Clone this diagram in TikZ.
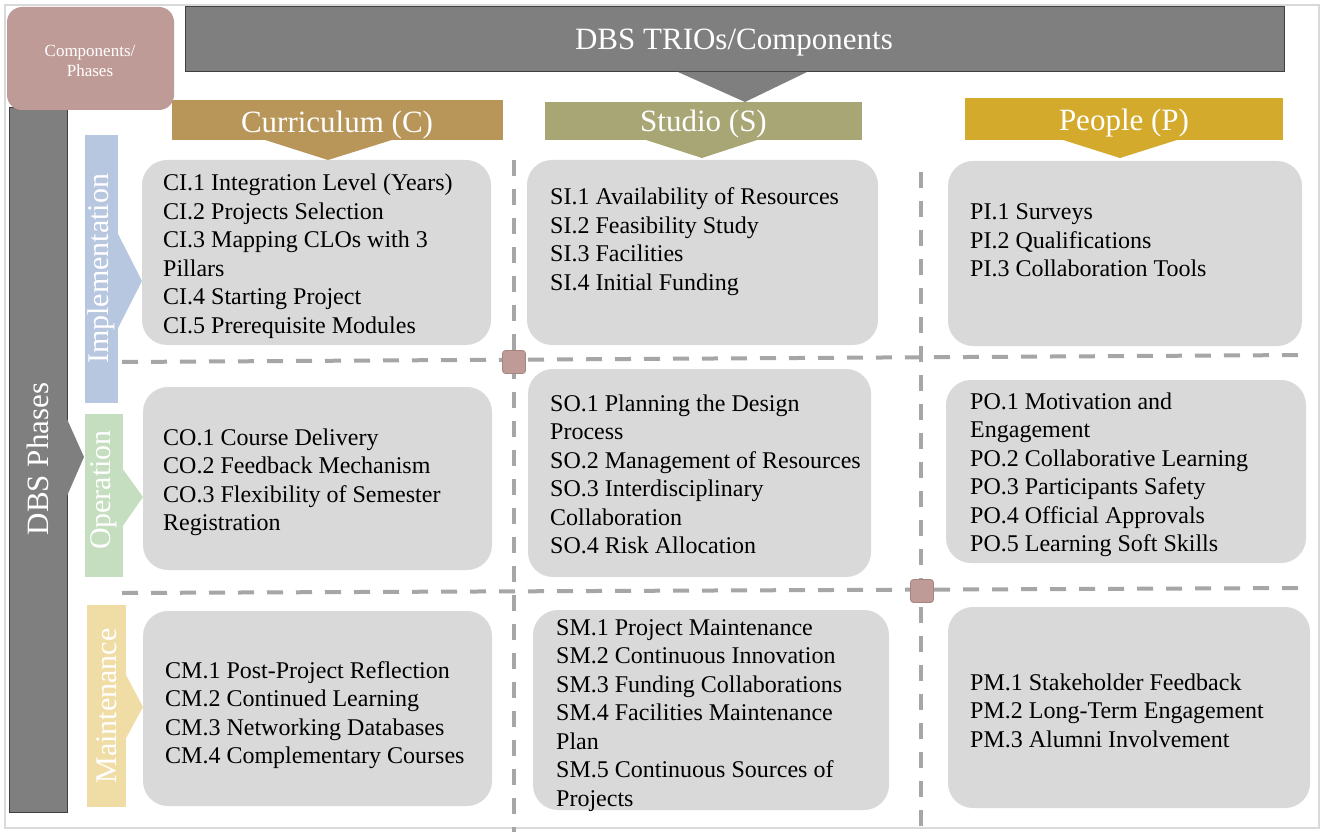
\documentclass[tikz,border=0pt]{standalone}
\usepackage{fontspec}
\setmainfont{Liberation Serif}
\usetikzlibrary{fit}
\definecolor{cframe}{HTML}{D9D9D9}
\definecolor{cgray}{HTML}{7F7F7F}
\definecolor{cgrayd}{HTML}{404040}
\definecolor{crose}{HTML}{BF9B97}
\definecolor{crosed}{HTML}{A88480}
\definecolor{ccur}{HTML}{B89558}
\definecolor{cstu}{HTML}{A9A676}
\definecolor{cpeo}{HTML}{D4AA2C}
\definecolor{cimp}{HTML}{B7C7DF}
\definecolor{cope}{HTML}{C5DEBF}
\definecolor{cmai}{HTML}{F0DDA6}
\definecolor{cbox}{HTML}{D9D9D9}
\definecolor{cdash}{HTML}{A6A6A6}
\begin{document}
\begin{tikzpicture}[x=1pt,y=-1pt,
  cbx/.style={fill=cbox, draw=none, rounded corners=25pt, inner sep=0pt},
  hdr/.style={draw=none, inner sep=0pt},
  hdrtxt/.style={anchor=base, inner sep=0pt, text=white, font=\fontsize{31}{34}\selectfont},
  phs/.style={draw=none, inner sep=0pt},
  phtxt/.style={rotate=90, text=white, inner sep=0pt, font=\fontsize{30}{34}\selectfont},
  txt/.style={anchor=base west, inner sep=0pt, text=black, font=\fontsize{24}{28.5}\selectfont},
  dsh/.style={draw=cdash, line width=4pt, dash pattern=on 16pt off 13pt},
  sq/.style={fill=crose, draw=crosed, line width=0.8pt, rounded corners=3pt, minimum size=23pt, inner sep=0pt},
]
\useasboundingbox (0,0) rectangle (1325,834);
\fill[white] (0,0) rectangle (1325,834);
\draw[cframe, line width=1.5pt] (5,5) rectangle (1319,828);

% top banner
\node[fill=cgray, draw=cgrayd, line width=1pt, inner sep=0pt, fit={(185,7)(1284,72)}] (banner) {};
\node[hdrtxt] (bannerT) at (734,50) {DBS TRIOs/Components};
\fill[cgray] (678,72) -- (807,72) -- (745,102) -- cycle;

% left phases bar
\node[fill=cgray, draw=cgrayd, line width=1pt, inner sep=0pt, fit={(9,108)(67,812)}] (phbar) {};
\node[rotate=90, text=white, inner sep=0pt, font=\fontsize{31}{34}\selectfont] (phbarT) at (38,459) {DBS Phases};
\fill[cgray] (66.5,418) -- (84,457) -- (66.5,497) -- cycle;

% dashed grid lines
\draw[dsh] (514,160) -- (514,832);
\draw[dsh] (921,172) -- (921,832);
\draw[dsh] (122,362) -- (1305,355);
\draw[dsh] (122,593) -- (1305,588);

% component headers
\fill[ccur] (262,139) -- (395,139) -- (328,160) -- cycle;
\fill[cstu] (643,139) -- (760,139) -- (702,158) -- cycle;
\fill[cpeo] (1060,139) -- (1180,139) -- (1120,158) -- cycle;
\node[hdr, fill=ccur, fit={(172,100)(503,140)}] (hcur) {};
\node[hdrtxt] (hcurT) at (337,132.5) {Curriculum (C)};
\node[hdr, fill=cstu, fit={(545,102)(862,140)}] (hstu) {};
\node[hdrtxt] (hstuT) at (703.5,132) {Studio (S)};
\node[hdr, fill=cpeo, fit={(965,98)(1283,140)}] (hpeo) {};
\node[hdrtxt] (hpeoT) at (1124,131) {People (P)};

% Components/Phases box
\node[fill=crose, draw=none, rounded corners=15pt, inner sep=0pt, fit={(7,7)(174,110)}] (cp) {};
\node[text=white, inner sep=0pt, align=center, font=\fontsize{17}{20}\selectfont] (cpT) at (90,61) {Components/\\Phases};

% phase labels
\fill[cimp] (117,232) -- (142,281) -- (117,330) -- cycle;
\fill[cope] (122,468) -- (143,497) -- (122,527) -- cycle;
\fill[cmai] (125,673) -- (143,707) -- (125,740) -- cycle;
\node[phs, fill=cimp, fit={(85,135)(118,403)}] (pimp) {};
\node[phtxt] (pimpT) at (pimp.center) {Implementation};
\node[phs, fill=cope, fit={(85,414)(123,577)}] (pope) {};
\node[phtxt] (popeT) at (104,490) {Operation};
\node[phs, fill=cmai, fit={(87,605)(126,807)}] (pmai) {};
\node[phtxt] (pmaiT) at (pmai.center) {Maintenance};

% content boxes
\node[cbx, fit={(142,160)(491,345)}] (ci) {};
\node[cbx, fit={(527,160)(878,345)}] (si) {};
\node[cbx, fit={(948,161)(1302,346)}] (pi) {};
\node[cbx, fit={(143,387)(492,570)}] (co) {};
\node[cbx, fit={(528,369)(871,577)}] (so) {};
\node[cbx, fit={(946,380)(1306,563)}] (po) {};
\node[cbx, fit={(143,611)(492,806)}] (cm) {};
\node[cbx, fit={(533,610)(889,810)}] (sm) {};
\node[cbx, fit={(948,607)(1310,808)}] (pm) {};

% intersection squares
\node[sq] (sq1) at (514,362) {};
\node[sq] (sq2) at (922,591) {};

% texts
\node[txt] (ciT) at (163,191) {\begin{tabular}[t]{@{}l@{}}CI.1 Integration Level (Years)\\CI.2 Projects Selection\\CI.3 Mapping CLOs with 3\\Pillars\\CI.4 Starting Project\\CI.5 Prerequisite Modules\end{tabular}};
\node[txt] (siT) at (550,205) {\begin{tabular}[t]{@{}l@{}}SI.1 Availability of Resources\\SI.2 Feasibility Study\\SI.3 Facilities\\SI.4 Initial Funding\end{tabular}};
\node[txt] (piT) at (970,220) {\begin{tabular}[t]{@{}l@{}}PI.1 Surveys\\PI.2 Qualifications\\PI.3 Collaboration Tools\end{tabular}};
\node[txt] (coT) at (163,445) {\begin{tabular}[t]{@{}l@{}}CO.1 Course Delivery\\CO.2 Feedback Mechanism\\CO.3 Flexibility of Semester\\Registration\end{tabular}};
\node[txt] (soT) at (550,411) {\begin{tabular}[t]{@{}l@{}}SO.1 Planning the Design\\Process\\SO.2 Management of Resources\\SO.3 Interdisciplinary\\Collaboration\\SO.4 Risk Allocation\end{tabular}};
\node[txt] (poT) at (970,409) {\begin{tabular}[t]{@{}l@{}}PO.1 Motivation and\\Engagement\\PO.2 Collaborative Learning\\PO.3 Participants Safety\\PO.4 Official Approvals\\PO.5 Learning Soft Skills\end{tabular}};
\node[txt] (cmT) at (165,678) {\begin{tabular}[t]{@{}l@{}}CM.1 Post-Project Reflection\\CM.2 Continued Learning\\CM.3 Networking Databases\\CM.4 Complementary Courses\end{tabular}};
\node[txt] (smT) at (556,635) {\begin{tabular}[t]{@{}l@{}}SM.1 Project Maintenance\\SM.2 Continuous Innovation\\SM.3 Funding Collaborations\\SM.4 Facilities Maintenance\\Plan\\SM.5 Continuous Sources of\\Projects\end{tabular}};
\node[txt] (pmT) at (970,690) {\begin{tabular}[t]{@{}l@{}}PM.1 Stakeholder Feedback\\PM.2 Long-Term Engagement\\PM.3 Alumni Involvement\end{tabular}};
\end{tikzpicture}
\end{document}
